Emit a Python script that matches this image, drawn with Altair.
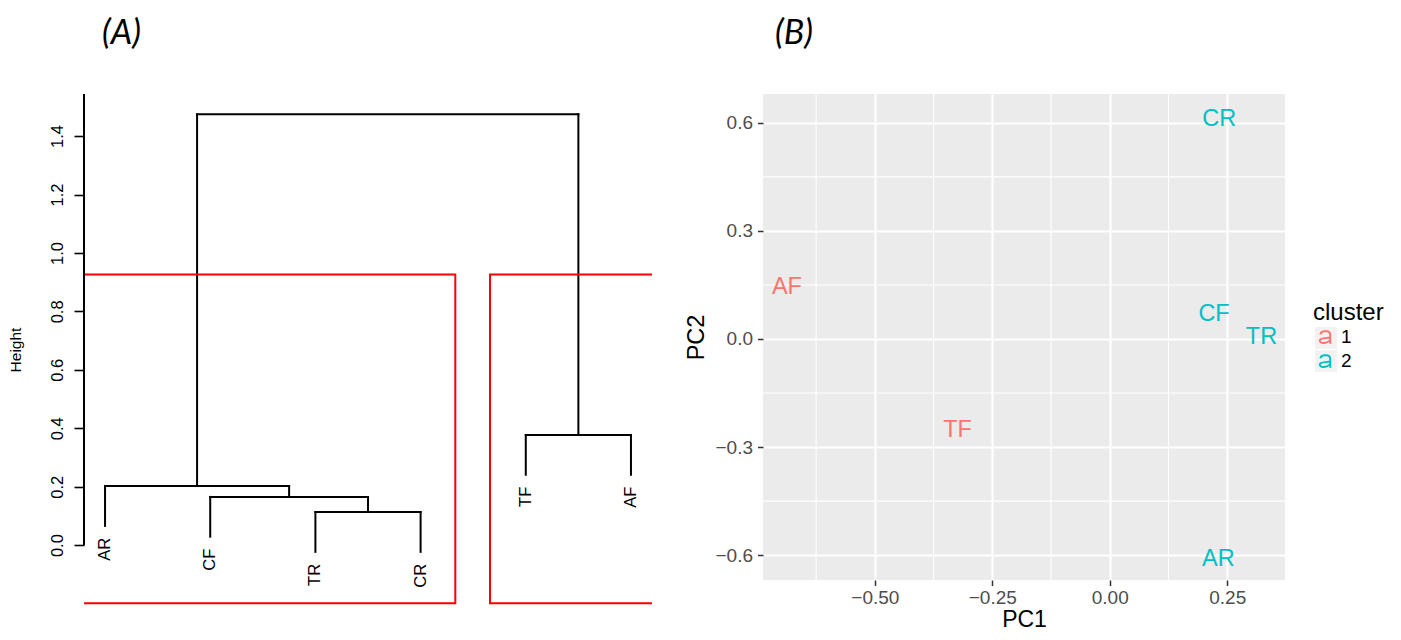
import altair as alt
import pandas as pd

# ---------------- Panel (A): hierarchical clustering dendrogram ----------------
leaf_labels = ["AR", "CF", "TR", "CR", "TF", "AF"]          # leaves in plotting order
# hclust-style merge table: negative = leaf number (plot order), positive = earlier merge row
merge_a = [-3, -2, -1, -5, 3]
merge_b = [-4, 1, 2, -6, 4]
merge_heights = [0.113, 0.165, 0.202, 0.377, 1.475]
hang_fraction = 0.1
cut_k = 2
cluster_sizes = [4, 2]
height_ticks = [0.0, 0.2, 0.4, 0.6, 0.8, 1.0, 1.2, 1.4]

# ---------------- Panel (B): PCA scores labelled by sample ----------------
pca_labels = ["CR", "AF", "CF", "TR", "TF", "AR"]
pc1 = [0.233, -0.687, 0.222, 0.323, -0.324, 0.231]
pc2 = [0.610, 0.143, 0.069, 0.005, -0.252, -0.611]
pca_cluster = ["2", "1", "2", "2", "1", "2"]
pc1_ticks = [-0.50, -0.25, 0.00, 0.25]
pc2_ticks = [-0.6, -0.3, 0.0, 0.3, 0.6]
pc1_minor = [-0.625, -0.375, -0.125, 0.125]
pc2_minor = [-0.45, -0.15, 0.15, 0.45]
cluster_names = ["1", "2"]
cluster_colors = ["#F8766D", "#00BFC4"]
key_fill = "#F2F2F2"

FONT = "Liberation Sans"

# ---------- build dendrogram segments from the merge table ----------
n = len(leaf_labels)
leaf_x = list(range(1, n + 1))
hang = hang_fraction * (max(merge_heights) - min(merge_heights))
node_x, node_y = {}, {}
segs = []
leaf_end = {}
for i, (a, b, h) in enumerate(zip(merge_a, merge_b, merge_heights), start=1):
    pts = []
    for c in (a, b):
        if c < 0:
            xx = leaf_x[-c - 1]
            yy = h - hang
            leaf_end[-c - 1] = yy
        else:
            xx, yy = node_x[c], node_y[c]
        pts.append((xx, yy))
    (xl, yl), (xr, yr) = pts
    segs += [(xl, yl, xl, h), (xl, h, xr, h), (xr, yr, xr, h)]
    node_x[i] = (xl + xr) / 2
    node_y[i] = h

seg_df = pd.DataFrame(segs, columns=["x0", "y0", "x1", "y1"])
leaf_df = pd.DataFrame({"x0": leaf_x, "y0": [leaf_end[i] for i in range(n)], "label": leaf_labels})

ydomA = [-0.205, 1.544]
xdomA = [0.8, 6.2]
rect_top = sum(sorted(merge_heights)[-cut_k:]) / cut_k
starts = [0]
for s in cluster_sizes:
    starts.append(starts[-1] + s)
rect_df = pd.DataFrame({
    "x0": [starts[i] + 0.66 for i in range(len(cluster_sizes))],
    "x1": [starts[i + 1] + 0.33 for i in range(len(cluster_sizes))],
    "y0": [-0.199] * len(cluster_sizes),
    "y1": [rect_top] * len(cluster_sizes),
})
axis_df = pd.DataFrame({"x0": [xdomA[0]], "y0": [0.0], "y1": [ydomA[1]]})

xA = alt.Scale(domain=xdomA, nice=False, zero=False)
yA = alt.Scale(domain=ydomA, nice=False, zero=False)
axisA = alt.Axis(values=height_ticks, format=".1f", labelAngle=270, labelAlign="center",
                 labelBaseline="alphabetic", tickSize=10, tickWidth=1.6, tickColor="black",
                 labelColor="black", labelFont=FONT, labelFontSize=16.5, labelPadding=12,
                 domain=False, grid=False, minExtent=52, maxExtent=52,
                 titleFont=FONT, titleFontSize=15.5, titleFontWeight="normal",
                 titleColor="black", titlePadding=9)


def yA_enc(field):
    return alt.Y(field, type="quantitative", scale=yA, axis=axisA, title="Height")


def xA_enc(field):
    return alt.X(field, type="quantitative", scale=xA, axis=None)


dend = alt.Chart(seg_df).mark_rule(color="black", strokeWidth=2, strokeCap="square").encode(
    x=xA_enc("x0"), x2="x1:Q", y=yA_enc("y0"), y2="y1:Q")
rects = alt.Chart(rect_df).mark_rect(filled=False, stroke="#FF0000", strokeWidth=2, clip=True).encode(
    x=xA_enc("x0"), x2="x1:Q", y=yA_enc("y0"), y2="y1:Q")
leaf_text = alt.Chart(leaf_df).mark_text(angle=270, align="right", baseline="middle", dx=-12,
                                         font=FONT, fontSize=16.5, color="black").encode(
    x=xA_enc("x0"), y=yA_enc("y0"), text="label:N")
axis_line = alt.Chart(axis_df).mark_rule(color="black", strokeWidth=2).encode(
    x=xA_enc("x0"), y=yA_enc("y0"), y2="y1:Q")

TITLE_OFFSET = 42

panelA = alt.layer(dend, rects, leaf_text, axis_line).properties(
    width=568, height=511,
    view=alt.ViewBackground(fill="white", strokeWidth=0),
    title=alt.Title("(A)", anchor="start", frame="group", dx=18, fontSize=34, font="Lato",
                    fontStyle="italic", fontWeight="normal", color="black", offset=TITLE_OFFSET),
)

# ---------------- Panel B ----------------
pca_df = pd.DataFrame({"label": pca_labels, "PC1": pc1, "PC2": pc2, "cluster": pca_cluster})
xB = alt.Scale(domain=[-0.738, 0.373], nice=False, zero=False)
yB = alt.Scale(domain=[-0.669, 0.680], nice=False, zero=False)
axX = alt.Axis(values=pc1_ticks, format=".2f", grid=True, gridColor="white", gridWidth=2.2,
               domain=False, tickColor="#333333", tickSize=5.5, tickWidth=1.5,
               labelColor="#4D4D4D", labelFont=FONT, labelFontSize=19, labelPadding=2.5,
               minExtent=27, maxExtent=27, titleFont=FONT, titleFontSize=23,
               titleFontWeight="normal", titleColor="black", titlePadding=1)
axY = alt.Axis(values=pc2_ticks, format=".1f", grid=True, gridColor="white", gridWidth=2.2,
               domain=False, tickColor="#333333", tickSize=5.5, tickWidth=1.5,
               labelColor="#4D4D4D", labelFont=FONT, labelFontSize=19, labelPadding=5,
               minExtent=52, maxExtent=52, titleFont=FONT, titleFontSize=23.5,
               titleFontWeight="normal", titleColor="black", titlePadding=3)

xB_enc = alt.X("PC1:Q", scale=xB, axis=axX, title="PC1")
yB_enc = alt.Y("PC2:Q", scale=yB, axis=axY, title="PC2")

xminor = alt.Chart(pd.DataFrame({"PC1": pc1_minor})).mark_rule(color="white", strokeWidth=1.1).encode(x=xB_enc)
yminor = alt.Chart(pd.DataFrame({"PC2": pc2_minor})).mark_rule(color="white", strokeWidth=1.1).encode(y=yB_enc)

a_path = ("M-0.55,-0.28 C-0.5,-0.58 -0.25,-0.67 0.02,-0.67 C0.4,-0.67 0.62,-0.52 0.62,-0.25 "
          "L0.62,0.45 C0.62,0.55 0.63,0.62 0.67,0.67 L0.45,0.67 C0.43,0.62 0.42,0.58 0.42,0.5 "
          "L0.42,-0.22 C0.42,-0.42 0.28,-0.48 0.02,-0.48 C-0.2,-0.48 -0.32,-0.42 -0.36,-0.26 Z "
          "M0.5,-0.06 L0.5,0.35 C0.42,0.56 0.15,0.69 -0.15,0.69 C-0.45,0.69 -0.62,0.55 -0.62,0.35 "
          "C-0.62,0.0 0.2,0.02 0.5,-0.06 Z "
          "M0.43,0.14 C0.2,0.19 -0.41,0.16 -0.41,0.37 C-0.41,0.47 -0.32,0.5 -0.14,0.5 "
          "C0.12,0.5 0.38,0.4 0.43,0.26 Z")

boxes = alt.Chart(pca_df).mark_square(opacity=0).encode(
    x=xB_enc, y=yB_enc,
    color=alt.Color("cluster:N", scale=alt.Scale(domain=cluster_names, range=[key_fill, key_fill]),
                    legend=alt.Legend(title=None, orient="none", legendX=552, legendY=233,
                                      symbolType="square", symbolSize=484, symbolOpacity=1,
                                      symbolStrokeWidth=0, labelOpacity=0, labelFontSize=18.8,
                                      rowPadding=1, padding=0, zindex=0)),
)
texts = alt.Chart(pca_df).mark_text(font=FONT, fontSize=23.5, baseline="middle").encode(
    x=xB_enc, y=yB_enc, text="label:N",
    color=alt.Color("cluster:N", scale=alt.Scale(domain=cluster_names, range=cluster_colors),
                    legend=alt.Legend(title="cluster", orient="none", legendX=550, legendY=207,
                                      symbolType=a_path, symbolSize=400, symbolStrokeWidth=0,
                                      symbolOffset=2, labelFont=FONT, labelFontSize=19,
                                      labelColor="black", labelOffset=6, titleFont=FONT,
                                      titleFontSize=24, titleFontWeight="normal",
                                      titleColor="black", titlePadding=2, rowPadding=4,
                                      padding=0, zindex=1)),
)

panelB = alt.layer(xminor, yminor, boxes, texts).resolve_scale(color="independent").properties(
    width=522, height=486,
    view=alt.ViewBackground(fill="#EBEBEB", strokeWidth=0),
    title=alt.Title("(B)", anchor="start", frame="group", dx=12, fontSize=34, font="Lato",
                    fontStyle="italic", fontWeight="normal", color="black", offset=TITLE_OFFSET),
)

chart = alt.hconcat(panelA, panelB, spacing=32).properties(
    padding={"left": 0, "top": 9, "right": 0, "bottom": 0}
).configure(font=FONT).configure_view(strokeWidth=0)

chart.save("out.html", embed_options={"renderer": "svg", "actions": False})
